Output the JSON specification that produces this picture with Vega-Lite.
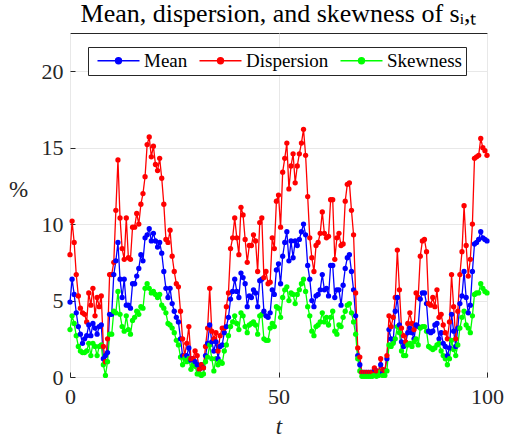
{
  "$schema": "https://vega.github.io/schema/vega-lite/v6.json",
  "width": 417,
  "height": 344,
  "autosize": {"type": "none"},
  "padding": {"left": 70, "top": 33, "right": 18, "bottom": 60},
  "background": "white",
  "config": {
    "font": "Liberation Serif",
    "view": {"stroke": "#262626", "strokeWidth": 1},
    "axis": {
      "domain": false,
      "gridColor": "#e8e8e8",
      "gridWidth": 1,
      "tickColor": "#262626",
      "tickSize": -5,
      "labelFont": "Liberation Serif",
      "labelFontSize": 22,
      "labelColor": "#262626",
      "titleFont": "Liberation Serif",
      "titleFontSize": 23,
      "titleFontWeight": "normal",
      "titleColor": "#262626"
    },
    "legend": {"labelFont": "Liberation Serif"},
    "title": {"font": "Liberation Serif"}
  },
  "title": {
    "text": "Mean, dispersion, and skewness of sᵢ,ₜ",
    "font": "Liberation Serif",
    "fontSize": 26,
    "fontWeight": "normal",
    "color": "black",
    "anchor": "middle",
    "offset": 6
  },
  "data": {
    "values": [
      {"t": 0, "Mean": 4.9, "Dispersion": 8.0, "Skewness": 3.1},
      {"t": 0.5, "Mean": 6.4, "Dispersion": 10.2, "Skewness": 4.0},
      {"t": 1, "Mean": 5.4, "Dispersion": 8.8, "Skewness": 3.5},
      {"t": 1.5, "Mean": 4.2, "Dispersion": 6.7, "Skewness": 2.7},
      {"t": 2, "Mean": 3.3, "Dispersion": 5.3, "Skewness": 2.0},
      {"t": 2.5, "Mean": 2.8, "Dispersion": 4.5, "Skewness": 1.7},
      {"t": 3, "Mean": 2.2, "Dispersion": 4.2, "Skewness": 1.6},
      {"t": 3.5, "Mean": 2.5, "Dispersion": 4.1, "Skewness": 1.6},
      {"t": 4, "Mean": 2.7, "Dispersion": 3.6, "Skewness": 1.7},
      {"t": 4.5, "Mean": 3.4, "Dispersion": 5.5, "Skewness": 2.2},
      {"t": 5, "Mean": 2.7, "Dispersion": 4.7, "Skewness": 1.4},
      {"t": 5.5, "Mean": 3.5, "Dispersion": 5.8, "Skewness": 2.2},
      {"t": 6, "Mean": 3.2, "Dispersion": 4.0, "Skewness": 2.0},
      {"t": 6.5, "Mean": 2.8, "Dispersion": 5.2, "Skewness": 1.4},
      {"t": 7, "Mean": 3.3, "Dispersion": 4.6, "Skewness": 2.0},
      {"t": 7.5, "Mean": 3.4, "Dispersion": 5.3, "Skewness": 2.1},
      {"t": 8, "Mean": 1.2, "Dispersion": 2.0, "Skewness": 0.8},
      {"t": 8.5, "Mean": 1.4, "Dispersion": 1.0, "Skewness": 0.1},
      {"t": 9, "Mean": 1.6, "Dispersion": 2.5, "Skewness": 1.0},
      {"t": 9.5, "Mean": 4.1, "Dispersion": 6.7, "Skewness": 2.8},
      {"t": 10, "Mean": 4.1, "Dispersion": 6.7, "Skewness": 2.8},
      {"t": 10.5, "Mean": 6.7, "Dispersion": 7.5, "Skewness": 4.3},
      {"t": 11, "Mean": 7.6, "Dispersion": 10.9, "Skewness": 4.2},
      {"t": 11.5, "Mean": 8.8, "Dispersion": 14.2, "Skewness": 5.6},
      {"t": 12, "Mean": 6.4, "Dispersion": 10.4, "Skewness": 4.1},
      {"t": 12.5, "Mean": 5.2, "Dispersion": 8.4, "Skewness": 3.3},
      {"t": 13, "Mean": 6.4, "Dispersion": 7.7, "Skewness": 3.0},
      {"t": 13.5, "Mean": 4.7, "Dispersion": 10.4, "Skewness": 4.0},
      {"t": 14, "Mean": 4.7, "Dispersion": 7.8, "Skewness": 3.1},
      {"t": 14.5, "Mean": 4.5, "Dispersion": 7.7, "Skewness": 2.8},
      {"t": 15, "Mean": 6.1, "Dispersion": 9.8, "Skewness": 3.7},
      {"t": 15.5, "Mean": 6.1, "Dispersion": 9.8, "Skewness": 3.9},
      {"t": 16, "Mean": 6.6, "Dispersion": 10.7, "Skewness": 4.3},
      {"t": 16.5, "Mean": 7.1, "Dispersion": 10.0, "Skewness": 4.1},
      {"t": 17, "Mean": 8.0, "Dispersion": 11.3, "Skewness": 4.6},
      {"t": 17.5, "Mean": 7.6, "Dispersion": 12.0, "Skewness": 4.5},
      {"t": 18, "Mean": 9.1, "Dispersion": 13.1, "Skewness": 5.8},
      {"t": 18.5, "Mean": 9.3, "Dispersion": 15.2, "Skewness": 6.1},
      {"t": 19, "Mean": 9.7, "Dispersion": 15.7, "Skewness": 5.8},
      {"t": 19.5, "Mean": 8.9, "Dispersion": 14.4, "Skewness": 5.5},
      {"t": 20, "Mean": 9.4, "Dispersion": 15.1, "Skewness": 5.6},
      {"t": 20.5, "Mean": 8.9, "Dispersion": 13.9, "Skewness": 5.4},
      {"t": 21, "Mean": 8.5, "Dispersion": 13.5, "Skewness": 5.2},
      {"t": 21.5, "Mean": 8.8, "Dispersion": 14.3, "Skewness": 5.4},
      {"t": 22, "Mean": 8.1, "Dispersion": 13.0, "Skewness": 4.7},
      {"t": 22.5, "Mean": 6.9, "Dispersion": 11.3, "Skewness": 4.5},
      {"t": 23, "Mean": 5.8, "Dispersion": 9.0, "Skewness": 4.2},
      {"t": 23.5, "Mean": 5.2, "Dispersion": 8.8, "Skewness": 3.5},
      {"t": 24, "Mean": 5.8, "Dispersion": 9.6, "Skewness": 3.4},
      {"t": 24.5, "Mean": 4.8, "Dispersion": 7.9, "Skewness": 3.2},
      {"t": 25, "Mean": 4.3, "Dispersion": 6.9, "Skewness": 2.9},
      {"t": 25.5, "Mean": 3.9, "Dispersion": 6.1, "Skewness": 2.4},
      {"t": 26, "Mean": 3.6, "Dispersion": 5.9, "Skewness": 2.1},
      {"t": 26.5, "Mean": 2.5, "Dispersion": 4.3, "Skewness": 1.3},
      {"t": 27, "Mean": 1.4, "Dispersion": 2.5, "Skewness": 0.8},
      {"t": 27.5, "Mean": 1.3, "Dispersion": 1.4, "Skewness": 1.2},
      {"t": 28, "Mean": 1.4, "Dispersion": 2.2, "Skewness": 1.0},
      {"t": 28.5, "Mean": 1.9, "Dispersion": 3.3, "Skewness": 1.2},
      {"t": 29, "Mean": 1.1, "Dispersion": 1.2, "Skewness": 0.5},
      {"t": 29.5, "Mean": 1.2, "Dispersion": 1.2, "Skewness": 0.8},
      {"t": 30, "Mean": 1.0, "Dispersion": 1.7, "Skewness": 0.7},
      {"t": 30.5, "Mean": 0.8, "Dispersion": 1.4, "Skewness": 0.2},
      {"t": 31, "Mean": 0.5, "Dispersion": 0.5, "Skewness": 0.2},
      {"t": 31.5, "Mean": 0.8, "Dispersion": 0.8, "Skewness": 0.1},
      {"t": 32, "Mean": 0.6, "Dispersion": 0.6, "Skewness": 0.2},
      {"t": 32.5, "Mean": 1.4, "Dispersion": 2.0, "Skewness": 1.0},
      {"t": 33, "Mean": 2.2, "Dispersion": 3.2, "Skewness": 1.3},
      {"t": 33.5, "Mean": 3.4, "Dispersion": 5.8, "Skewness": 2.1},
      {"t": 34, "Mean": 2.3, "Dispersion": 3.0, "Skewness": 1.2},
      {"t": 34.5, "Mean": 1.7, "Dispersion": 2.5, "Skewness": 0.4},
      {"t": 35, "Mean": 2.3, "Dispersion": 2.9, "Skewness": 1.2},
      {"t": 35.5, "Mean": 1.2, "Dispersion": 1.7, "Skewness": 0.8},
      {"t": 36, "Mean": 2.0, "Dispersion": 2.7, "Skewness": 1.0},
      {"t": 36.5, "Mean": 2.1, "Dispersion": 3.2, "Skewness": 0.9},
      {"t": 37, "Mean": 2.9, "Dispersion": 3.2, "Skewness": 1.7},
      {"t": 37.5, "Mean": 3.3, "Dispersion": 4.6, "Skewness": 2.1},
      {"t": 38, "Mean": 3.9, "Dispersion": 5.5, "Skewness": 2.7},
      {"t": 38.5, "Mean": 5.1, "Dispersion": 8.4, "Skewness": 3.3},
      {"t": 39, "Mean": 5.6, "Dispersion": 9.1, "Skewness": 3.6},
      {"t": 39.5, "Mean": 6.4, "Dispersion": 10.4, "Skewness": 4.0},
      {"t": 40, "Mean": 5.6, "Dispersion": 9.1, "Skewness": 3.5},
      {"t": 40.5, "Mean": 5.2, "Dispersion": 8.0, "Skewness": 3.1},
      {"t": 41, "Mean": 6.8, "Dispersion": 11.1, "Skewness": 4.2},
      {"t": 41.5, "Mean": 6.5, "Dispersion": 10.6, "Skewness": 4.0},
      {"t": 42, "Mean": 6.1, "Dispersion": 9.0, "Skewness": 3.3},
      {"t": 42.5, "Mean": 4.6, "Dispersion": 7.5, "Skewness": 2.9},
      {"t": 43, "Mean": 5.3, "Dispersion": 8.6, "Skewness": 3.4},
      {"t": 43.5, "Mean": 5.2, "Dispersion": 8.6, "Skewness": 3.5},
      {"t": 44, "Mean": 5.7, "Dispersion": 9.3, "Skewness": 3.6},
      {"t": 44.5, "Mean": 5.5, "Dispersion": 8.9, "Skewness": 3.4},
      {"t": 45, "Mean": 4.6, "Dispersion": 6.9, "Skewness": 2.8},
      {"t": 45.5, "Mean": 6.3, "Dispersion": 10.1, "Skewness": 4.0},
      {"t": 46, "Mean": 6.4, "Dispersion": 10.4, "Skewness": 4.1},
      {"t": 46.5, "Mean": 4.3, "Dispersion": 6.5, "Skewness": 2.5},
      {"t": 47, "Mean": 4.0, "Dispersion": 6.9, "Skewness": 2.4},
      {"t": 47.5, "Mean": 3.9, "Dispersion": 6.1, "Skewness": 2.4},
      {"t": 48, "Mean": 4.2, "Dispersion": 6.2, "Skewness": 3.2},
      {"t": 48.5, "Mean": 5.7, "Dispersion": 9.1, "Skewness": 3.5},
      {"t": 49, "Mean": 5.4, "Dispersion": 8.4, "Skewness": 3.3},
      {"t": 49.5, "Mean": 7.0, "Dispersion": 11.5, "Skewness": 4.6},
      {"t": 50, "Mean": 7.4, "Dispersion": 11.9, "Skewness": 4.5},
      {"t": 50.5, "Mean": 6.1, "Dispersion": 9.8, "Skewness": 3.9},
      {"t": 51, "Mean": 7.9, "Dispersion": 13.4, "Skewness": 5.2},
      {"t": 51.5, "Mean": 8.8, "Dispersion": 14.3, "Skewness": 5.7},
      {"t": 52, "Mean": 9.5, "Dispersion": 15.3, "Skewness": 5.9},
      {"t": 52.5, "Mean": 7.6, "Dispersion": 12.3, "Skewness": 5.0},
      {"t": 53, "Mean": 8.9, "Dispersion": 13.8, "Skewness": 5.5},
      {"t": 53.5, "Mean": 7.8, "Dispersion": 14.6, "Skewness": 5.4},
      {"t": 54, "Mean": 8.9, "Dispersion": 12.7, "Skewness": 4.8},
      {"t": 54.5, "Mean": 8.6, "Dispersion": 13.8, "Skewness": 5.4},
      {"t": 55, "Mean": 9.0, "Dispersion": 14.6, "Skewness": 5.7},
      {"t": 55.5, "Mean": 9.5, "Dispersion": 15.3, "Skewness": 6.1},
      {"t": 56, "Mean": 10.0, "Dispersion": 16.2, "Skewness": 6.4},
      {"t": 56.5, "Mean": 9.3, "Dispersion": 14.5, "Skewness": 5.6},
      {"t": 57, "Mean": 7.3, "Dispersion": 11.8, "Skewness": 4.6},
      {"t": 57.5, "Mean": 6.4, "Dispersion": 9.1, "Skewness": 4.0},
      {"t": 58, "Mean": 5.0, "Dispersion": 7.8, "Skewness": 3.0},
      {"t": 58.5, "Mean": 4.6, "Dispersion": 6.9, "Skewness": 2.7},
      {"t": 59, "Mean": 5.3, "Dispersion": 8.6, "Skewness": 3.3},
      {"t": 59.5, "Mean": 5.4, "Dispersion": 8.8, "Skewness": 3.4},
      {"t": 60, "Mean": 5.7, "Dispersion": 9.4, "Skewness": 3.6},
      {"t": 60.5, "Mean": 6.7, "Dispersion": 10.8, "Skewness": 4.2},
      {"t": 61, "Mean": 5.7, "Dispersion": 9.4, "Skewness": 3.6},
      {"t": 61.5, "Mean": 5.8, "Dispersion": 9.1, "Skewness": 3.9},
      {"t": 62, "Mean": 5.3, "Dispersion": 9.2, "Skewness": 3.4},
      {"t": 62.5, "Mean": 7.3, "Dispersion": 11.6, "Skewness": 3.9},
      {"t": 63, "Mean": 7.3, "Dispersion": 11.6, "Skewness": 4.3},
      {"t": 63.5, "Mean": 5.2, "Dispersion": 7.7, "Skewness": 3.0},
      {"t": 64, "Mean": 5.7, "Dispersion": 9.1, "Skewness": 2.8},
      {"t": 64.5, "Mean": 5.7, "Dispersion": 9.4, "Skewness": 3.4},
      {"t": 65, "Mean": 4.7, "Dispersion": 8.6, "Skewness": 3.3},
      {"t": 65.5, "Mean": 6.0, "Dispersion": 8.7, "Skewness": 3.9},
      {"t": 66, "Mean": 7.1, "Dispersion": 11.5, "Skewness": 4.3},
      {"t": 66.5, "Mean": 7.8, "Dispersion": 12.6, "Skewness": 4.7},
      {"t": 67, "Mean": 8.0, "Dispersion": 12.7, "Skewness": 4.8},
      {"t": 67.5, "Mean": 6.9, "Dispersion": 10.9, "Skewness": 4.2},
      {"t": 68, "Mean": 5.7, "Dispersion": 9.3, "Skewness": 3.6},
      {"t": 68.5, "Mean": 4.0, "Dispersion": 5.5, "Skewness": 2.8},
      {"t": 69, "Mean": 1.4, "Dispersion": 1.9, "Skewness": 1.2},
      {"t": 69.5, "Mean": 0.8, "Dispersion": 1.3, "Skewness": 0.4},
      {"t": 70, "Mean": 0.3, "Dispersion": 0.3, "Skewness": 0.05},
      {"t": 70.5, "Mean": 0.3, "Dispersion": 0.3, "Skewness": 0.05},
      {"t": 71, "Mean": 0.3, "Dispersion": 0.3, "Skewness": 0.05},
      {"t": 71.5, "Mean": 0.3, "Dispersion": 0.3, "Skewness": 0.05},
      {"t": 72, "Mean": 0.3, "Dispersion": 0.3, "Skewness": 0.05},
      {"t": 72.5, "Mean": 0.3, "Dispersion": 0.3, "Skewness": 0.05},
      {"t": 73, "Mean": 0.5, "Dispersion": 0.6, "Skewness": 0.1},
      {"t": 73.5, "Mean": 0.4, "Dispersion": 0.4, "Skewness": 0.05},
      {"t": 74, "Mean": 0.35, "Dispersion": 0.35, "Skewness": 0.1},
      {"t": 74.5, "Mean": 0.8, "Dispersion": 1.2, "Skewness": 0.35},
      {"t": 75, "Mean": 0.3, "Dispersion": 0.5, "Skewness": 0.1},
      {"t": 75.5, "Mean": 0.4, "Dispersion": 0.4, "Skewness": 0.1},
      {"t": 76, "Mean": 1.2, "Dispersion": 1.4, "Skewness": 0.4},
      {"t": 76.5, "Mean": 3.1, "Dispersion": 4.0, "Skewness": 2.1},
      {"t": 77, "Mean": 2.5, "Dispersion": 3.3, "Skewness": 2.0},
      {"t": 77.5, "Mean": 2.3, "Dispersion": 3.9, "Skewness": 2.2},
      {"t": 78, "Mean": 4.3, "Dispersion": 5.2, "Skewness": 2.5},
      {"t": 78.5, "Mean": 5.2, "Dispersion": 8.3, "Skewness": 3.3},
      {"t": 79, "Mean": 3.4, "Dispersion": 5.7, "Skewness": 2.9},
      {"t": 79.5, "Mean": 2.3, "Dispersion": 3.2, "Skewness": 1.7},
      {"t": 80, "Mean": 2.0, "Dispersion": 2.7, "Skewness": 1.4},
      {"t": 80.5, "Mean": 2.2, "Dispersion": 2.3, "Skewness": 1.4},
      {"t": 81, "Mean": 2.9, "Dispersion": 3.5, "Skewness": 2.1},
      {"t": 81.5, "Mean": 3.2, "Dispersion": 4.2, "Skewness": 2.2},
      {"t": 82, "Mean": 2.9, "Dispersion": 3.5, "Skewness": 2.0},
      {"t": 82.5, "Mean": 2.5, "Dispersion": 3.1, "Skewness": 2.3},
      {"t": 83, "Mean": 3.4, "Dispersion": 5.5, "Skewness": 2.5},
      {"t": 83.5, "Mean": 3.3, "Dispersion": 5.2, "Skewness": 2.1},
      {"t": 84, "Mean": 5.1, "Dispersion": 7.9, "Skewness": 3.2},
      {"t": 84.5, "Mean": 5.5, "Dispersion": 8.9, "Skewness": 3.3},
      {"t": 85, "Mean": 5.5, "Dispersion": 9.0, "Skewness": 3.3},
      {"t": 85.5, "Mean": 4.8, "Dispersion": 8.2, "Skewness": 3.0},
      {"t": 86, "Mean": 3.0, "Dispersion": 4.8, "Skewness": 2.0},
      {"t": 86.5, "Mean": 2.9, "Dispersion": 4.7, "Skewness": 1.9},
      {"t": 87, "Mean": 3.0, "Dispersion": 5.2, "Skewness": 1.8},
      {"t": 87.5, "Mean": 3.4, "Dispersion": 4.6, "Skewness": 1.9},
      {"t": 88, "Mean": 3.5, "Dispersion": 5.7, "Skewness": 2.1},
      {"t": 88.5, "Mean": 2.5, "Dispersion": 3.9, "Skewness": 2.2},
      {"t": 89, "Mean": 2.9, "Dispersion": 4.1, "Skewness": 1.7},
      {"t": 89.5, "Mean": 2.2, "Dispersion": 3.4, "Skewness": 1.4},
      {"t": 90, "Mean": 2.0, "Dispersion": 2.9, "Skewness": 1.2},
      {"t": 90.5, "Mean": 1.4, "Dispersion": 2.5, "Skewness": 0.8},
      {"t": 91, "Mean": 1.9, "Dispersion": 3.6, "Skewness": 1.2},
      {"t": 91.5, "Mean": 4.1, "Dispersion": 6.7, "Skewness": 2.4},
      {"t": 92, "Mean": 3.0, "Dispersion": 4.6, "Skewness": 1.8},
      {"t": 92.5, "Mean": 2.0, "Dispersion": 2.5, "Skewness": 1.4},
      {"t": 93, "Mean": 3.2, "Dispersion": 4.3, "Skewness": 2.1},
      {"t": 93.5, "Mean": 4.8, "Dispersion": 6.7, "Skewness": 3.2},
      {"t": 94, "Mean": 5.3, "Dispersion": 8.2, "Skewness": 3.9},
      {"t": 94.5, "Mean": 6.9, "Dispersion": 11.2, "Skewness": 4.3},
      {"t": 95, "Mean": 5.2, "Dispersion": 8.6, "Skewness": 3.4},
      {"t": 95.5, "Mean": 4.2, "Dispersion": 6.6, "Skewness": 3.2},
      {"t": 96, "Mean": 4.7, "Dispersion": 7.7, "Skewness": 2.9},
      {"t": 96.5, "Mean": 6.9, "Dispersion": 10.0, "Skewness": 4.0},
      {"t": 97, "Mean": 8.7, "Dispersion": 14.3, "Skewness": 5.4},
      {"t": 97.5, "Mean": 8.8, "Dispersion": 14.4, "Skewness": 5.5},
      {"t": 98, "Mean": 9.0, "Dispersion": 14.5, "Skewness": 5.5},
      {"t": 98.5, "Mean": 9.5, "Dispersion": 15.6, "Skewness": 6.1},
      {"t": 99, "Mean": 9.1, "Dispersion": 15.0, "Skewness": 5.8},
      {"t": 99.5, "Mean": 9.0, "Dispersion": 14.8, "Skewness": 5.6},
      {"t": 100, "Mean": 8.9, "Dispersion": 14.5, "Skewness": 5.5}
    ]
  },
  "transform": [{"fold": ["Mean", "Dispersion", "Skewness"], "as": ["series", "value"]}],
  "encoding": {
    "x": {
      "field": "t",
      "type": "quantitative",
      "scale": {"domain": [0, 100], "nice": false, "zero": false},
      "axis": {"values": [0, 50, 100], "title": "t", "titleFontStyle": "italic", "labelFont": "Liberation Serif", "titleFont": "Liberation Serif", "labelPadding": 14, "titlePadding": 8, "labelFlush": false}
    },
    "y": {
      "field": "value",
      "type": "quantitative",
      "scale": {"domain": [0, 22.5], "nice": false},
      "axis": {"values": [0, 5, 10, 15, 20], "title": "%", "labelFont": "Liberation Serif", "titleFont": "Liberation Serif", "titleAngle": 0, "titleX": -52, "titleY": 156, "titleAlign": "center", "titleBaseline": "middle", "labelPadding": 12}
    },
    "color": {
      "field": "series",
      "type": "nominal",
      "scale": {"domain": ["Mean", "Dispersion", "Skewness"], "range": ["#0000ff", "#ff0000", "#00ff00"]},
      "legend": {
        "title": null,
        "orient": "none",
        "direction": "horizontal",
        "legendX": 18,
        "legendY": 14,
        "strokeColor": "#262626",
        "fillColor": "white",
        "padding": 4,
        "labelFont": "Liberation Serif",
        "labelFontSize": 19,
        "labelColor": "black",
        "symbolType": "M-3,0H3M0.42,0A0.42,0.42,0,1,1,-0.42,0A0.42,0.42,0,1,1,0.42,0",
        "symbolSize": 196,
        "symbolOffset": 17,
        "symbolStrokeWidth": 1.5,
        "columnPadding": 6,
        "labelOffset": 16,
        "encode": {
          "symbols": {
            "update": {
              "fill": {"scale": "color", "field": "value"},
              "stroke": {"scale": "color", "field": "value"},
              "opacity": {"value": 1}
            }
          }
        }
      }
    }
  },
  "layer": [
    {"mark": {"type": "line", "strokeWidth": 1.3}},
    {"mark": {"type": "point", "filled": true, "size": 28, "opacity": 1}}
  ]
}
